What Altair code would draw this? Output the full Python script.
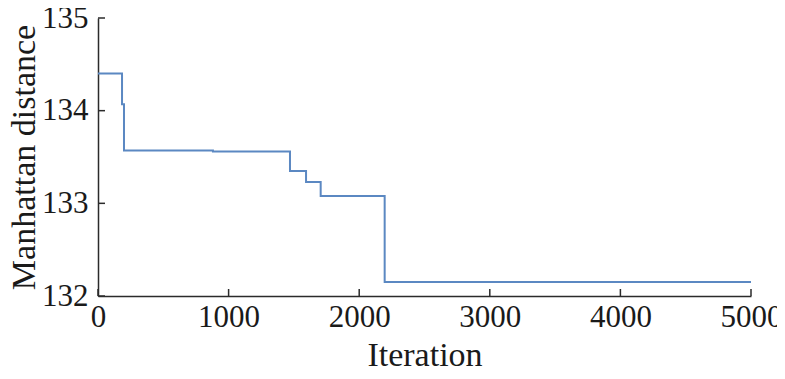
import altair as alt
import pandas as pd

iterations = [0, 184, 199, 880, 1470, 1593, 1705, 2195, 5000]
distance = [134.40, 134.07, 133.57, 133.56, 133.35, 133.23, 133.08, 132.15, 132.15]
x_ticks = [0, 1000, 2000, 3000, 4000, 5000]
y_ticks = [132, 133, 134, 135]

W, H = 653, 278
FONT = "'Liberation Serif', 'Times New Roman', Times, serif"
AX = "#2b2b2b"

df = pd.DataFrame({"Iteration": iterations, "Manhattan distance": distance})
xt = pd.DataFrame({"x": x_ticks})
yt = pd.DataFrame({"y": y_ticks})

xscale = alt.Scale(domain=[0, 5000], nice=False, zero=False)
yscale = alt.Scale(domain=[132, 135], nice=False, zero=False)

line = alt.Chart(df).mark_line(interpolate="step-after", color="#5b88c2", strokeWidth=2).encode(
    x=alt.X("Iteration:Q", scale=xscale, title="Iteration",
            axis=alt.Axis(values=x_ticks, format="d", labelFlush=False, tickSize=0,
                          labelPadding=6, titlePadding=6, grid=False)),
    y=alt.Y("Manhattan distance:Q", scale=yscale, title="Manhattan distance",
            axis=alt.Axis(values=y_ticks, format="d", tickSize=0, labelPadding=10,
                          titlePadding=0, grid=False)),
)

xtick_marks = alt.Chart(xt).mark_rule(color=AX, strokeWidth=1.5).encode(
    x=alt.X("x:Q", scale=xscale, title="Iteration"),
    y=alt.value(H),
    y2=alt.value(H - 7),
)
ytick_marks = alt.Chart(yt).mark_rule(color=AX, strokeWidth=1.5).encode(
    y=alt.Y("y:Q", scale=yscale, title="Manhattan distance"),
    x=alt.value(0),
    x2=alt.value(7),
)

chart = alt.layer(line, xtick_marks, ytick_marks).properties(
    width=W, height=H,
    autosize=alt.AutoSizeParams(type="none"),
    padding={"left": 90, "top": 10, "right": 26, "bottom": 75},
).configure_view(stroke=None).configure_axis(
    labelFont=FONT, titleFont=FONT, labelFontSize=31, titleFontSize=34,
    labelColor="#1a1a1a", titleColor="#1a1a1a", titleFontWeight="normal",
    domainColor=AX, domainWidth=1.5,
)

chart.save("out.html", embed_options={"renderer": "svg", "actions": False})
